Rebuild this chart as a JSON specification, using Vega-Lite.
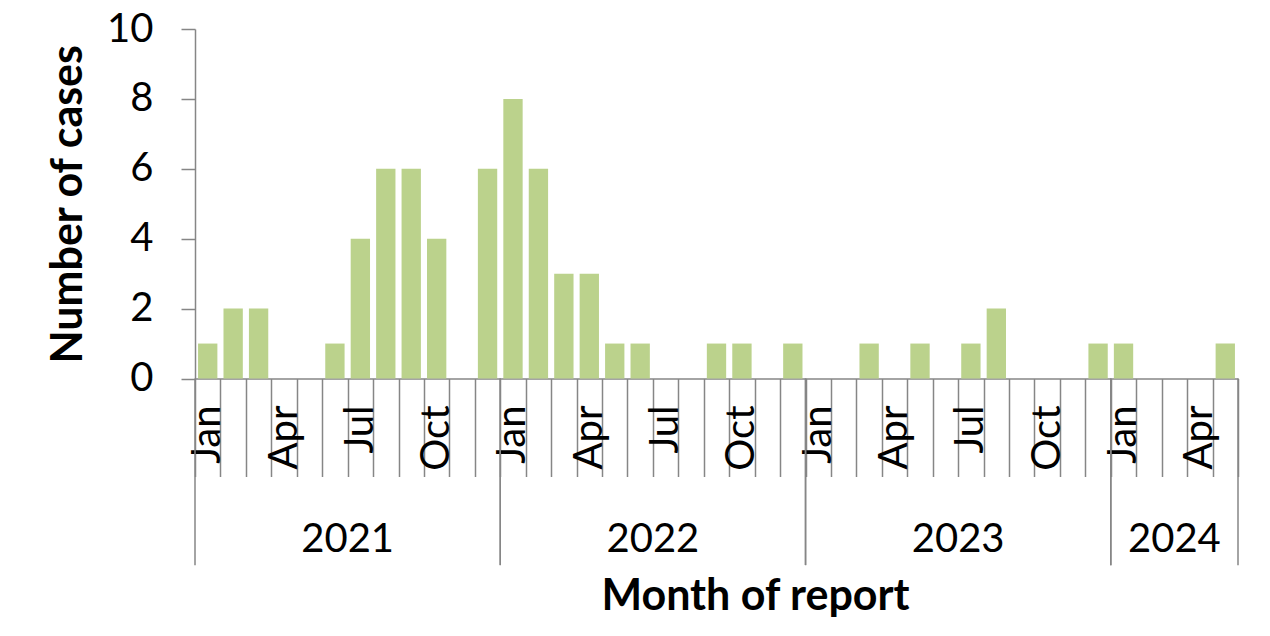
{
  "$schema": "https://vega.github.io/schema/vega-lite/v6.json",
  "width": 1043,
  "height": 349.5,
  "autosize": {"type": "none"},
  "padding": {"left": 195, "top": 29, "right": 32, "bottom": 257.5},
  "background": "white",
  "config": {"view": {"stroke": null}, "font": "Lato"},
  "datasets": {
    "months": [
      {"month": "2021-01", "cases": 1}, {"month": "2021-02", "cases": 2}, {"month": "2021-03", "cases": 2},
      {"month": "2021-04", "cases": 0}, {"month": "2021-05", "cases": 0}, {"month": "2021-06", "cases": 1},
      {"month": "2021-07", "cases": 4}, {"month": "2021-08", "cases": 6}, {"month": "2021-09", "cases": 6},
      {"month": "2021-10", "cases": 4}, {"month": "2021-11", "cases": 0}, {"month": "2021-12", "cases": 6},
      {"month": "2022-01", "cases": 8}, {"month": "2022-02", "cases": 6}, {"month": "2022-03", "cases": 3},
      {"month": "2022-04", "cases": 3}, {"month": "2022-05", "cases": 1}, {"month": "2022-06", "cases": 1},
      {"month": "2022-07", "cases": 0}, {"month": "2022-08", "cases": 0}, {"month": "2022-09", "cases": 1},
      {"month": "2022-10", "cases": 1}, {"month": "2022-11", "cases": 0}, {"month": "2022-12", "cases": 1},
      {"month": "2023-01", "cases": 0}, {"month": "2023-02", "cases": 0}, {"month": "2023-03", "cases": 1},
      {"month": "2023-04", "cases": 0}, {"month": "2023-05", "cases": 1}, {"month": "2023-06", "cases": 0},
      {"month": "2023-07", "cases": 1}, {"month": "2023-08", "cases": 2}, {"month": "2023-09", "cases": 0},
      {"month": "2023-10", "cases": 0}, {"month": "2023-11", "cases": 0}, {"month": "2023-12", "cases": 1},
      {"month": "2024-01", "cases": 1}, {"month": "2024-02", "cases": 0}, {"month": "2024-03", "cases": 0},
      {"month": "2024-04", "cases": 0}, {"month": "2024-05", "cases": 1}
    ],
    "years": [
      {"year": "2021", "first": "2021-01", "last": "2021-12", "center": "2021-07", "full": true},
      {"year": "2022", "first": "2022-01", "last": "2022-12", "center": "2022-07", "full": true},
      {"year": "2023", "first": "2023-01", "last": "2023-12", "center": "2023-07", "full": true},
      {"year": "2024", "first": "2024-01", "last": "2024-05", "center": "2024-03", "full": false}
    ]
  },
  "layer": [
    {
      "data": {"name": "months"},
      "mark": {"type": "bar", "color": "#bbd28c", "width": {"band": 0.76}},
      "encoding": {
        "x": {
          "field": "month", "type": "ordinal", "sort": "ascending",
          "scale": {"paddingInner": 0, "paddingOuter": 0},
          "axis": {
            "title": "Month of report",
            "labelExpr": "substring(datum.value,5,7)=='01' ? 'Jan' : substring(datum.value,5,7)=='04' ? 'Apr' : substring(datum.value,5,7)=='07' ? 'Jul' : substring(datum.value,5,7)=='10' ? 'Oct' : ''",
            "labelAngle": -90,
            "labelFontSize": 40,
            "labelColor": "black",
            "labelPadding": -71.5,
            "labelOverlap": false,
            "labelBound": false,
            "tickBand": "extent",
            "tickSize": 98,
            "tickColor": "#868686",
            "tickWidth": 1.5,
            "domainColor": "#868686",
            "domainWidth": 1.5,
            "titleFontSize": 43,
            "titleFontWeight": "bold",
            "titleColor": "black",
            "titleX": 560,
            "titleY": 230.5,
            "titleAlign": "center",
            "titleBaseline": "alphabetic"
          }
        },
        "y": {
          "field": "cases", "type": "quantitative",
          "scale": {"domain": [0, 10], "nice": false},
          "axis": {
            "values": [0, 2, 4, 6, 8, 10],
            "title": "Number of cases",
            "grid": false,
            "tickSize": 14,
            "tickColor": "#868686",
            "tickWidth": 1.5,
            "domainColor": "#868686",
            "domainWidth": 1.5,
            "labelFontSize": 40,
            "labelColor": "black",
            "labelPadding": 28,
            "titleFontSize": 43,
            "titleFontWeight": "bold",
            "titleColor": "black",
            "titleX": -114,
            "titleY": 174.75,
            "titleAngle": -90,
            "titleAlign": "center",
            "titleBaseline": "alphabetic"
          }
        }
      }
    },
    {
      "data": {"name": "years"},
      "mark": {"type": "rule", "color": "#868686", "strokeWidth": 1.5},
      "encoding": {
        "x": {"field": "first", "type": "ordinal", "bandPosition": 0},
        "y": {"datum": 0},
        "y2": {"datum": -5.34}
      }
    },
    {
      "data": {"name": "years"},
      "mark": {"type": "rule", "color": "#868686", "strokeWidth": 1.5},
      "encoding": {
        "x": {"field": "last", "type": "ordinal", "bandPosition": 1},
        "y": {"datum": 0},
        "y2": {"datum": -5.34}
      }
    },
    {
      "data": {"name": "years"},
      "transform": [{"filter": "datum.full"}],
      "mark": {"type": "text", "fontSize": 40, "color": "black", "align": "center", "baseline": "alphabetic"},
      "encoding": {
        "x": {"field": "center", "type": "ordinal", "bandPosition": 0},
        "y": {"datum": -4.97},
        "text": {"field": "year"}
      }
    },
    {
      "data": {"name": "years"},
      "transform": [{"filter": "!datum.full"}],
      "mark": {"type": "text", "fontSize": 40, "color": "black", "align": "center", "baseline": "alphabetic"},
      "encoding": {
        "x": {"field": "center", "type": "ordinal", "bandPosition": 0.5},
        "y": {"datum": -4.97},
        "text": {"field": "year"}
      }
    }
  ]
}
